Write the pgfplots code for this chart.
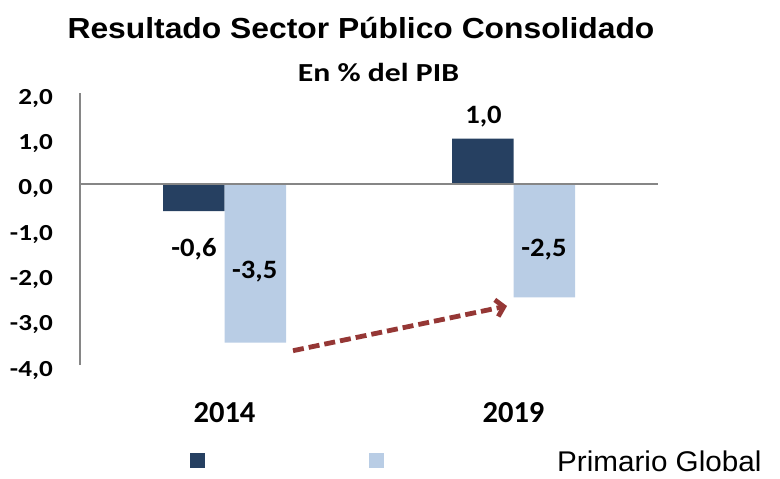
\documentclass[border=0pt]{standalone}
\usepackage{fontspec}
\usepackage{pgfplots}
\pgfplotsset{compat=1.18}
\usetikzlibrary{arrows.meta}
\setmainfont{Liberation Sans}
\newfontfamily\titlefont[FakeStretch=1.097]{Liberation Sans}
\newfontfamily\legfont[FakeStretch=1.04]{Liberation Sans}
\newfontfamily\calA[FakeStretch=1.22]{Carlito}
\newfontfamily\calT[FakeStretch=1.18]{Carlito}
\newfontfamily\calB[FakeStretch=1.08]{Carlito}
\newfontfamily\calC{Carlito}
\definecolor{darkbar}{RGB}{38,64,97}
\definecolor{lightbar}{RGB}{185,205,229}
\definecolor{axisgray}{RGB}{134,134,134}
\definecolor{arrowred}{RGB}{149,55,53}
\begin{document}
\begin{tikzpicture}
\begin{axis}[
  at={(80pt,-365.2pt)}, anchor=south west,
  scale only axis, width=578pt, height=271.8pt,
  xmin=-0.5, xmax=1.5, ymin=-4, ymax=2,
  ybar=0pt, bar width=61.5pt,
  separate axis lines,
  axis x line*=bottom, x axis line style={draw=none},
  axis y line*=left, y axis line style={draw=axisgray, line width=2pt},
  xtick={0,1}, xticklabels={2014,2019},
  ytick={-4,-3,-2,-1,0,1,2},
  yticklabels={{-4,0},{-3,0},{-2,0},{-1,0},{0,0},{1,0},{2,0}},
  major tick length=0pt, tick style={draw=none},
  xticklabel style={anchor=north, inner sep=0pt, yshift=-37.5pt,
    font=\calC\bfseries\fontsize{30.5}{30.5}\selectfont},
  yticklabel style={anchor=east, inner sep=0pt, xshift=-27pt, yshift=-5pt,
    font=\calT\bfseries\fontsize{23}{23}\selectfont},
  legend image code/.code={\fill[#1] (0pt,-7.5pt) rectangle (15pt,7.5pt);},
  legend style={at={(0.19,-0.3506)}, anchor=west, draw=none, fill=none,
    inner sep=0pt, outer sep=0pt, legend columns=2,
    nodes={inner sep=0pt, outer sep=0pt},
    /tikz/every even column/.append style={column sep=163pt}},
]
\addplot[fill=darkbar, draw=none] coordinates {(0,-0.6) (1,1.0)};
\addlegendentry{\mbox{}}
\addplot[fill=lightbar, draw=none] coordinates {(0,-3.5) (1,-2.5)};
\addlegendentry{\mbox{}}
\draw[axisgray, line width=2pt] (axis cs:-0.5,0) -- (axis cs:1.5,0);
\node[anchor=base, inner sep=0pt, font=\calB\bfseries\fontsize{26.5}{26.5}\selectfont] at (axis cs:-0.1055,-1.605) {-0,6};
\node[anchor=base, inner sep=0pt, font=\calB\bfseries\fontsize{26.5}{26.5}\selectfont] at (axis cs:0.1045,-2.097) {-3,5};
\node[anchor=base, inner sep=0pt, font=\calB\bfseries\fontsize{26.5}{26.5}\selectfont] at (axis cs:0.896,1.325) {1,0};
\node[anchor=base, inner sep=0pt, font=\calB\bfseries\fontsize{26.5}{26.5}\selectfont] at (axis cs:1.1055,-1.605) {-2,5};
\draw[arrowred, line width=4.8pt, dash pattern=on 11pt off 5pt,
  -{Straight Barb[length=7.5pt, width=17pt]}]
  (axis cs:0.237,-3.68) -- (axis cs:0.9775,-2.693);
\end{axis}
\node[anchor=base, inner sep=0pt, font=\titlefont\bfseries\fontsize{29}{29}\selectfont] at (361pt,-38.3pt) {Resultado Sector Público Consolidado};
\node[anchor=base, inner sep=0pt, font=\calA\bfseries\fontsize{26}{26}\selectfont] at (378.5pt,-81.7pt) {En \% del PIB};
\node[anchor=base west, inner sep=0pt, font=\legfont\fontsize{28.5}{28.5}\selectfont] at (557pt,-471.5pt) {Primario Global};
\pgfresetboundingbox
\path[use as bounding box] (0pt,0pt) rectangle (780pt,-479pt);
\end{tikzpicture}
\end{document}
